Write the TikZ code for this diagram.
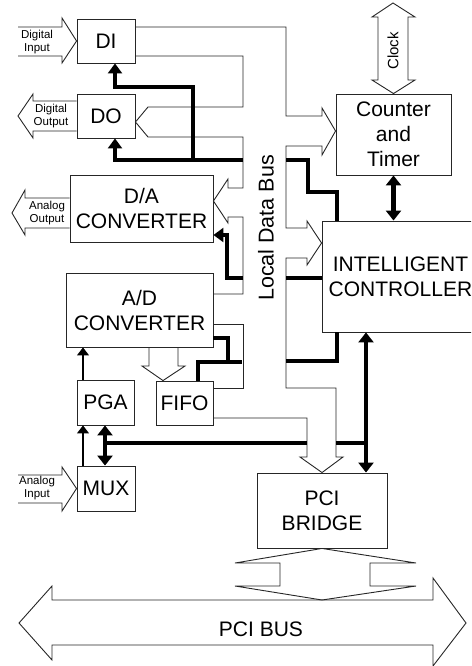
\documentclass[tikz,border=0pt]{standalone}
\usepackage{fontspec}
\setmainfont{Liberation Sans}
\usetikzlibrary{arrows.meta}

\begin{document}
\begin{tikzpicture}[x=1pt, y=-1pt,
  font=\fontsize{21}{25}\selectfont,
  box/.style={draw=black!85, line width=0.9pt, fill=white, inner sep=0pt, align=center},
  lbl/.style={font=\fontsize{11.5}{13.5}\selectfont, align=center, inner sep=0pt},
  wire/.style={draw=black!85, line width=0.9pt, line join=miter},
  thk/.style={line width=4.6pt, line join=miter},
  thkarr/.style={thk, -{Triangle[length=10pt, width=14pt]}},
  thkdbl/.style={thk, {Triangle[length=10pt, width=15pt]}-{Triangle[length=10pt, width=15pt]}},
  thinarr/.style={line width=1.2pt, -{Triangle[length=8pt, width=12pt]}}
]
\clip (0,0) rectangle (471,666);

% blocks
\node[box, minimum width=58, minimum height=44] (di) at (106,41) {DI};
\node[box, minimum width=58, minimum height=44] (do) at (106,116) {DO};
\node[box, minimum width=143, minimum height=67] (da) at (141.5,208.5) {D/A\\CONVERTER};
\node[box, minimum width=147, minimum height=74] (ad) at (139.5,310) {A/D\\CONVERTER};
\node[box, minimum width=57, minimum height=45] (pga) at (105.5,402.5) {PGA};
\node[box, minimum width=57, minimum height=44] (fifo) at (184.5,403) {FIFO};
\node[box, minimum width=58, minimum height=45] (mux) at (106,488.5) {MUX};
\node[box, minimum width=115, minimum height=81] (ctr) at (393.5,134.5) {Counter\\and\\Timer};
\node[box, minimum width=157, minimum height=111] (ic) at (400.5,276.5) {INTELLIGENT\\CONTROLLER};
\node[box, minimum width=130, minimum height=75] (pci) at (322,510.5) {PCI\\BRIDGE};

% signal arrows at the left
\draw[wire] (18,27) -- (62,27) -- (62,18) -- (di.west) -- (62,63) -- (62,56) -- (18,56);
\node[lbl] (dinl) at (37,42) {Digital\\Input};
\draw[wire] (do.west |- 0,101) -- (33,101) -- (33,94) -- (18,116) -- (33,138) -- (33,131) -- (do.west |- 0,131);
\node[lbl] (doutl) at (51,116) {Digital\\Output};
\draw[wire] (da.west |- 0,198) -- (25,198) -- (25,190) -- (12,213) -- (25,235) -- (25,228) -- (da.west |- 0,228);
\node[lbl] (aoutl) at (47,213) {Analog\\Output};
\draw[wire] (18,475) -- (62,475) -- (62,467) -- (mux.west) -- (62,511) -- (62,503) -- (18,503);
\node[lbl] (ainl) at (37,488) {Analog\\Input};

% local data bus
\draw[wire] (di.east |- 0,56) -- (243,56) -- (243,107) -- (148,107) -- (do.east |- 0,122) -- (148,137)
  -- (243,137) -- (243,188) -- (228,188) -- (228,179) -- (da.east |- 0,201) -- (228,223) -- (228,217)
  -- (243,217) -- (243,294) -- (ad.east |- 0,294);
\draw[wire] (ad.east |- 0,324) -- (243,324) -- (243,388) -- (fifo.east |- 0,388);
\draw[wire] (fifo.east |- 0,418) -- (307,418) -- (307,457) -- (300,457) -- (pci.north) -- (343,457)
  -- (336,457) -- (336,388) -- (286,388) -- (286,258) -- (307,258) -- (307,265) -- (ic.west |- 0,243)
  -- (307,221) -- (307,228) -- (286,228) -- (286,146) -- (322,146) -- (322,155) -- (ctr.west |- 0,131)
  -- (322,108) -- (322,116) -- (286,116) -- (286,27) -- (di.east |- 0,27);
\node[rotate=90, font=\fontsize{21.5}{25}\selectfont] (ldb) at (266,228) {Local Data Bus};

% A/D to FIFO
\draw[wire] (ad.south -| 149,0) -- (149,366) -- (142,366) -- (fifo.north -| 163,0) -- (185,366)
  -- (178,366) -- (ad.south -| 178,0);

% clock
\draw[wire] (393,3) -- (372,17) -- (378,17) -- (378,80) -- (372,80) -- (ctr.north) -- (415,80)
  -- (408,80) -- (408,17) -- (415,17) -- cycle;
\node[rotate=90, font=\fontsize{15}{18}\selectfont] (clk) at (393,51) {Clock};

% PCI bridge to PCI bus
\draw[wire] (235,586) -- (280,586) -- (280,563) -- (235,563) -- (pci.south) -- (416,563) -- (370,563)
  -- (370,586) -- (416,586) -- (322,600) -- cycle;
\draw[wire] (19,623) -- (52,586) -- (52,600) -- (433,600) -- (433,578) -- (466,623) -- (433,666)
  -- (433,645) -- (52,645) -- (52,660) -- cycle;
\node (pcibus) at (261,629) {PCI BUS};

% control lines
\draw[thkarr] (243,160) -| (do.south -| 115,0);
\draw[thkarr] (193,160) -- (193,87) -| (di.south -| 115,0);
\draw[thkarr] (243,278) -| (227,235) -- (da.east |- 0,235);
\draw[thk] (ad.east |- 0,338) -| (228,362);
\draw[thk] (242,362) -| (fifo.north -| 198,0);
\draw[thk] (286,160) -| (308,192) -| (ic.north -| 337,0);
\draw[thk] (286,278) -- (ic.west |- 0,278);
\draw[thk] (286,361) -| (ic.south -| 337,0);
\draw[thkdbl] (ctr.south) -- (ctr.south |- ic.north);
\draw[thkdbl] (ic.south -| 366,0) -- (pci.north -| 366,0);
\draw[thk] (336,443) -- (366,443);
\draw[thk] (307,443) -- (105,443);
\draw[thkdbl] (pga.south -| 105,0) -- (mux.north -| 105,0);
\draw[thinarr] (pga.north -| 83,0) -- (ad.south -| 83,0);
\draw[thinarr] (mux.north -| 83,0) -- (pga.south -| 83,0);
\end{tikzpicture}
\end{document}
